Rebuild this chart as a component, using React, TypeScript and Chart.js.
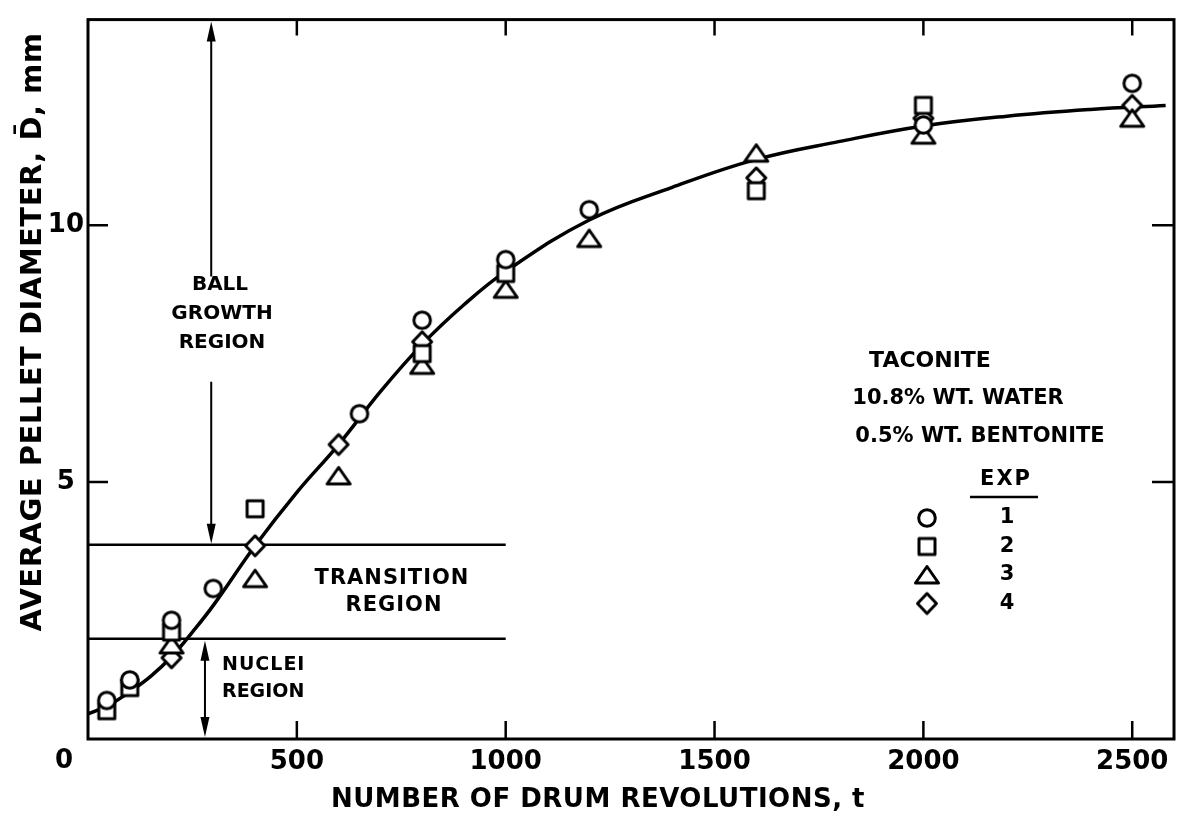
import React, { useEffect, useRef } from 'react';
import { Chart, registerables } from 'chart.js';
Chart.register(...registerables);

// ---- data ----
const exp1Revs = [45, 100, 200, 300, 650, 800, 1000, 1200, 2000, 2500];
const exp1Diam = [0.75, 1.15, 2.31, 2.93, 6.33, 8.15, 9.33, 10.3, 11.95, 12.76];
const exp2Revs = [45, 100, 200, 400, 800, 1000, 1600, 2000];
const exp2Diam = [0.55, 1.0, 2.08, 4.48, 7.5, 9.06, 10.67, 12.33];
const exp3Revs = [200, 400, 600, 800, 1000, 1200, 1600, 2000, 2500];
const exp3Diam = [1.83, 3.12, 5.12, 7.27, 8.75, 9.74, 11.4, 11.75, 12.08];
const exp4Revs = [200, 400, 600, 800, 1600, 2000, 2500];
const exp4Diam = [1.58, 3.76, 5.73, 7.73, 10.92, 12.08, 12.33];
const fitRevs = [0, 50, 100, 150, 200, 250, 300, 400, 500, 600, 700, 800, 900, 1000, 1200, 1400, 1600, 1800, 2000, 2200, 2400, 2580];
const fitDiam = [0.49, 0.66, 0.92, 1.22, 1.6, 2.08, 2.6, 3.76, 4.8, 5.73, 6.76, 7.68, 8.45, 9.1, 10.1, 10.74, 11.28, 11.63, 11.93, 12.12, 12.25, 12.33];

const xTickValues = [500, 1000, 1500, 2000, 2500];
const yTickValues = [5, 10];
const xRange = [0, 2600];
const yRange = [0, 14];

const nucleiTop = 1.95;
const transitionTop = 3.78;
const boundaryEnd = 1000;
const ballArrowRevs = 295;
const ballArrowGap = [6.95, 9.0];
const nucleiArrowRevs = 280;

const legendLabels = ['1', '2', '3', '4'];
const legendShapes = ['circle', 'square', 'triangle', 'diamond'];

const FONT = '"DejaVu Sans", "Liberation Sans", sans-serif';
const B = 'bold';

function makeMarker(kind: string): HTMLCanvasElement {
  const c = document.createElement('canvas');
  const s = 30;
  c.width = s;
  c.height = s;
  const ctx = c.getContext('2d')!;
  ctx.lineWidth = 3;
  ctx.strokeStyle = '#000';
  ctx.fillStyle = '#fff';
  ctx.lineJoin = 'round';
  const m = s / 2;
  ctx.beginPath();
  if (kind === 'circle') ctx.arc(m, m, 8.3, 0, Math.PI * 2);
  else if (kind === 'square') ctx.rect(m - 8, m - 8, 16, 16);
  else if (kind === 'triangle') {
    ctx.moveTo(m, m - 8.5);
    ctx.lineTo(m + 11.5, m + 8);
    ctx.lineTo(m - 11.5, m + 8);
    ctx.closePath();
  } else {
    ctx.moveTo(m, m - 10);
    ctx.lineTo(m + 9.5, m);
    ctx.lineTo(m, m + 10);
    ctx.lineTo(m - 9.5, m);
    ctx.closePath();
  }
  ctx.fill();
  ctx.stroke();
  return c;
}

const pts = (xs: number[], ys: number[]) => xs.map((x, i) => ({ x, y: ys[i] }));

export default function App() {
  const ref = useRef<HTMLCanvasElement | null>(null);

  useEffect(() => {
    if (!ref.current) return;
    const markers: Record<string, HTMLCanvasElement> = {};
    legendShapes.forEach((k) => (markers[k] = makeMarker(k)));

    const arrowHead = (ctx: CanvasRenderingContext2D, x: number, y: number, dir: number) => {
      ctx.beginPath();
      ctx.moveTo(x, y);
      ctx.lineTo(x - 4.5, y - dir * 20);
      ctx.lineTo(x + 4.5, y - dir * 20);
      ctx.closePath();
      ctx.fill();
    };

    const text = (ctx: any, s: string, x: number, y: number, size: number, spacing = 0) => {
      ctx.font = `${B} ${size}px ${FONT}`;
      ctx.letterSpacing = `${spacing}px`;
      ctx.fillText(s, x, y);
      ctx.letterSpacing = '0px';
    };

    const decor = {
      id: 'decor',
      afterDatasetsDraw(chart: any) {
        const { ctx, chartArea: a, scales } = chart;
        const xs = scales.x;
        const ys = scales.y;
        ctx.save();
        ctx.strokeStyle = '#000';
        ctx.fillStyle = '#000';
        ctx.lineWidth = 3;
        ctx.lineCap = 'butt';
        ctx.strokeRect(a.left, a.top, a.right - a.left, a.bottom - a.top);
        // inward ticks
        ctx.lineWidth = 2.5;
        xTickValues.forEach((v) => {
          const px = xs.getPixelForValue(v);
          ctx.beginPath();
          ctx.moveTo(px, a.bottom);
          ctx.lineTo(px, a.bottom - 18);
          ctx.moveTo(px, a.top);
          ctx.lineTo(px, a.top + 16);
          ctx.stroke();
        });
        yTickValues.forEach((v) => {
          const py = ys.getPixelForValue(v);
          ctx.beginPath();
          ctx.moveTo(a.left, py);
          ctx.lineTo(a.left + 20, py);
          ctx.moveTo(a.right, py);
          ctx.lineTo(a.right - 22, py);
          ctx.stroke();
        });
        // arrows
        ctx.lineWidth = 2;
        const bx = xs.getPixelForValue(ballArrowRevs);
        const bTop = ys.getPixelForValue(yRange[1]);
        const bG1 = ys.getPixelForValue(ballArrowGap[1]);
        const bG0 = ys.getPixelForValue(ballArrowGap[0]);
        const bBot = ys.getPixelForValue(transitionTop);
        ctx.beginPath();
        ctx.moveTo(bx, bTop + 10);
        ctx.lineTo(bx, bG1);
        ctx.moveTo(bx, bG0);
        ctx.lineTo(bx, bBot - 10);
        ctx.stroke();
        arrowHead(ctx, bx, bTop + 2, -1);
        arrowHead(ctx, bx, bBot - 1, 1);
        const nx = xs.getPixelForValue(nucleiArrowRevs);
        const nTop = ys.getPixelForValue(nucleiTop);
        const nBot = ys.getPixelForValue(yRange[0]);
        ctx.beginPath();
        ctx.moveTo(nx, nTop + 10);
        ctx.lineTo(nx, nBot - 10);
        ctx.stroke();
        arrowHead(ctx, nx, nTop + 2, -1);
        arrowHead(ctx, nx, nBot - 2, 1);

        // texts
        ctx.textBaseline = 'middle';
        ctx.textAlign = 'center';
        text(ctx, '0', a.left - 24, a.bottom + 22, 26);

        text(ctx, 'BALL', 220, 285, 20);
        text(ctx, 'GROWTH', 222, 314, 20);
        text(ctx, 'REGION', 222, 343, 20);
        text(ctx, 'TRANSITION', 392, 579, 21, 1);
        text(ctx, 'REGION', 394, 606, 21, 1);
        ctx.textAlign = 'left';
        text(ctx, 'NUCLEI', 222, 665, 19, 1);
        text(ctx, 'REGION', 222, 692, 19);

        ctx.textAlign = 'center';
        text(ctx, 'TACONITE', 930, 361, 22);
        text(ctx, '10.8% WT. WATER', 958, 399, 21);
        text(ctx, '0.5% WT. BENTONITE', 980, 437, 21);
        text(ctx, 'EXP', 1006, 480, 21, 2);
        ctx.lineWidth = 2.5;
        ctx.beginPath();
        ctx.moveTo(970, 497);
        ctx.lineTo(1038, 497);
        ctx.stroke();
        legendLabels.forEach((lab, i) => {
          const y = 518 + i * 28.5;
          const mk = markers[legendShapes[i]];
          ctx.drawImage(mk, 927 - mk.width / 2, y - mk.height / 2);
          text(ctx, lab, 1007, y, 21);
        });

        // axis titles
        text(ctx, 'NUMBER OF DRUM REVOLUTIONS, t', 598, 800, 26, 0.5);
        ctx.save();
        ctx.translate(33, 332);
        ctx.rotate(-Math.PI / 2);
        text(ctx, 'AVERAGE PELLET DIAMETER, D\u0304, mm', 0, 0, 29, 0.5);
        ctx.restore();
        ctx.restore();
      },
    };

    const lineDs = (data: any[], width: number, order: number, extra: any = {}) => ({
      data,
      showLine: true,
      borderColor: '#000',
      borderWidth: width,
      pointRadius: 0,
      order,
      ...extra,
    });
    const ptDs = (label: string, data: any[], kind: string) => ({
      label,
      data,
      showLine: false,
      pointStyle: markers[kind],
      pointRadius: 10,
      order: 1,
    });

    const tickFont = { family: FONT, size: 26, weight: 'bold' };

    const chart = new Chart(ref.current, {
      type: 'scatter',
      data: {
        datasets: [
          ptDs('1', pts(exp1Revs, exp1Diam), 'circle'),
          ptDs('2', pts(exp2Revs, exp2Diam), 'square'),
          ptDs('3', pts(exp3Revs, exp3Diam), 'triangle'),
          ptDs('4', pts(exp4Revs, exp4Diam), 'diamond'),
          lineDs(pts(fitRevs, fitDiam), 3.5, 10, { tension: 0.4 }),
          lineDs(pts([0, boundaryEnd], [transitionTop, transitionTop]), 2.5, 11),
          lineDs(pts([0, boundaryEnd], [nucleiTop, nucleiTop]), 2.5, 11),
        ] as any,
      },
      options: {
        responsive: false,
        animation: false,
        layout: { padding: { top: 11, right: 10, left: 0, bottom: 0 } },
        plugins: { legend: { display: false }, tooltip: { enabled: false } },
        scales: {
          x: {
            type: 'linear',
            min: xRange[0],
            max: xRange[1],
            grid: { display: false, drawTicks: false },
            border: { display: false },
            afterBuildTicks: (s: any) => {
              s.ticks = xTickValues.map((v) => ({ value: v }));
            },
            afterFit: (s: any) => {
              s.height = 86;
            },
            ticks: {
              color: '#000',
              font: tickFont,
              padding: 8,
              maxRotation: 0,
              autoSkip: false,
              callback: (v: any) => String(v),
            },
          },
          y: {
            type: 'linear',
            min: yRange[0],
            max: yRange[1],
            grid: { display: false, drawTicks: false },
            border: { display: false },
            afterBuildTicks: (s: any) => {
              s.ticks = yTickValues.map((v) => ({ value: v }));
            },
            afterFit: (s: any) => {
              s.width = 88;
            },
            ticks: {
              color: '#000',
              font: tickFont,
              padding: 4,
              crossAlign: 'center',
              callback: (v: any) => String(v),
            },
          },
        },
      } as any,
      plugins: [decor],
    });
    return () => chart.destroy();
  }, []);

  return (
    <div style={{ position: 'absolute', left: 0, top: 0, width: 1185, height: 825, background: '#fff' }}>
      <canvas ref={ref} width={1185} height={825} />
    </div>
  );
}
